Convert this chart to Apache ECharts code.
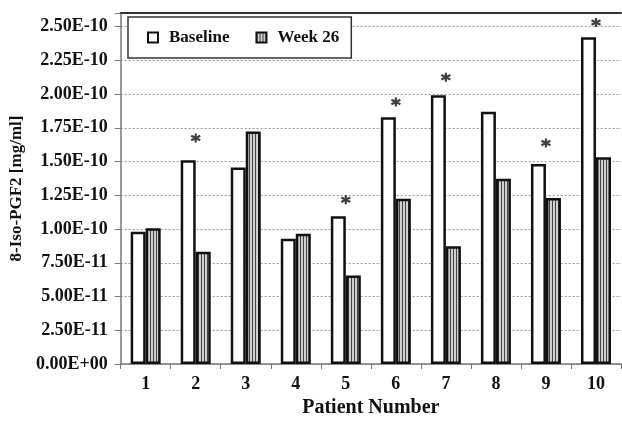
<!DOCTYPE html>
<html>
<head>
<meta charset="utf-8">
<script src="https://cdn.jsdelivr.net/npm/echarts@6/dist/echarts.min.js"></script>
<style>html,body{margin:0;padding:0;background:#fff;}#c{width:622px;height:423px;}</style>
</head>
<body>
<div id="c"></div>
<script>
// values in units of 1E-10 mg/ml
const UNIT = 1e-10;
const categories = ['1','2','3','4','5','6','7','8','9','10'];
const baseline = [0.98, 1.51, 1.455, 0.927, 1.094, 1.827, 1.99, 1.868, 1.482, 2.421];
const week26   = [1.005, 0.831, 1.723, 0.964, 0.656, 1.224, 0.872, 1.372, 1.229, 1.532];
// asterisk marks (significance) positions
const starValues = [null, 1.674, null, null, 1.217, 1.94, 2.124, null, 1.637, 2.53];
const yTicks = [0, 0.25, 0.5, 0.75, 1.0, 1.25, 1.5, 1.75, 2.0, 2.25, 2.5];

const FONT = 'Liberation Serif';

function fmt(v) {
  const step = 0.25;
  const r = v / step;
  if (Math.abs(r - Math.round(r)) > 1e-6) return '';
  const real = Math.round(r) * step * UNIT;
  const s = real.toExponential(2).split('e');
  const sign = s[1][0];
  const digits = s[1].slice(1).padStart(2, '0');
  return s[0] + 'E' + sign + digits;
}

const pc = document.createElement('canvas');
pc.width = 3; pc.height = 8;
const g = pc.getContext('2d');
g.fillStyle = '#cfcfcf'; g.fillRect(0, 0, 3, 8);
g.fillStyle = '#444'; g.fillRect(0, 0, 1, 8);

const chart = echarts.init(document.getElementById('c'), null, {renderer: 'canvas'});
chart.setOption({
  animation: false,
  backgroundColor: '#fff',
  grid: {left: 120, right: 1, top: 13, bottom: 58},
  legend: {
    left: 128, top: 17,
    padding: [12, 12, 12, 19],
    itemWidth: 10, itemHeight: 10, itemGap: 26,
    icon: 'rect',
    borderColor: '#333', borderWidth: 1.5,
    backgroundColor: '#fff',
    textStyle: {fontFamily: FONT, fontWeight: 'bold', fontSize: 17, color: '#111', padding: [0, 0, 0, 6]},
    data: ['Baseline', 'Week 26']
  },
  xAxis: [{
    type: 'category', data: categories,
    name: 'Patient Number', nameLocation: 'middle', nameGap: 34,
    nameTextStyle: {fontFamily: FONT, fontWeight: 'bold', fontSize: 20, color: '#111'},
    axisLine: {lineStyle: {color: '#777', width: 1.5}},
    axisTick: {show: true, length: 5, lineStyle: {color: '#777'}},
    axisLabel: {fontFamily: FONT, fontWeight: 'bold', fontSize: 18, color: '#111', margin: 11},
    splitLine: {show: false}
  }, {
    type: 'category', data: categories, position: 'top',
    axisLine: {show: true, lineStyle: {color: '#333', width: 2}},
    axisTick: {show: false}, axisLabel: {show: false}, splitLine: {show: false}
  }],
  yAxis: {
    type: 'value', min: 0, max: 2.6, interval: 0.25,
    name: '8-Iso-PGF2 [mg/ml]', nameLocation: 'middle', nameRotate: 90, nameGap: 95,
    nameTextStyle: {fontFamily: FONT, fontWeight: 'bold', fontSize: 17, color: '#111'},
    axisLine: {show: true, lineStyle: {color: '#777', width: 1.5}},
    axisTick: {show: true, length: 6, lineStyle: {color: '#777'}},
    axisLabel: {fontFamily: FONT, fontWeight: 'bold', fontSize: 18, color: '#111', margin: 13, formatter: fmt},
    splitLine: {show: true, lineStyle: {color: '#999', type: [2, 2], width: 1}}
  },
  series: [{
    name: 'Baseline', type: 'bar', data: baseline,
    barWidth: 15, barGap: '0%',
    itemStyle: {color: '#fff', borderColor: '#111', borderWidth: 2.5}
  }, {
    name: 'Week 26', type: 'bar', data: week26,
    barWidth: 15, barGap: '0%',
    itemStyle: {color: {image: pc, repeat: 'repeat'}, borderColor: '#111', borderWidth: 2.5}
  }, {
    name: 'sig', type: 'scatter', data: starValues,
    symbol: 'path://M0,-10L0,10M-8.66,-5L8.66,5M-8.66,5L8.66,-5',
    symbolSize: 9,
    itemStyle: {color: 'none', borderColor: '#111', borderWidth: 2.2},
    z: 5
  }]
});
</script>
</body>
</html>
